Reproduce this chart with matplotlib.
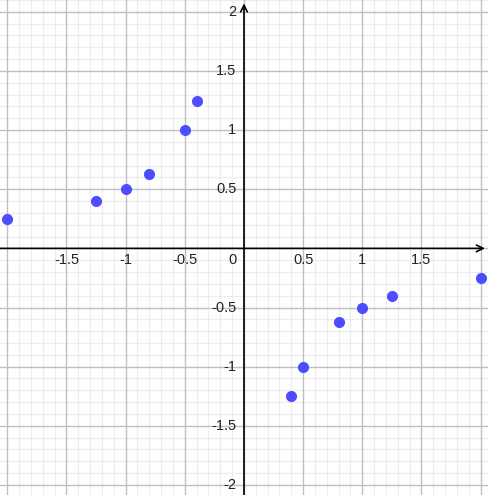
import matplotlib.pyplot as plt
import numpy as np

plt.rcParams['font.family'] = ['Liberation Sans', 'DejaVu Sans']

# points of y = -1/(2x)
xs = [-2, -1.25, -1, -0.8, -0.5, -0.4, 0.4, 0.5, 0.8, 1, 1.25, 2]
ys = [0.25, 0.4, 0.5, 0.625, 1, 1.25, -1.25, -1, -0.625, -0.5, -0.4, -0.25]
xticks = [-1.5, -1, -0.5, 0.5, 1, 1.5]
yticks = [-2, -1.5, -1, -0.5, 0.5, 1, 1.5, 2]

fig = plt.figure(figsize=(4.89, 4.95), dpi=100)
ax = fig.add_axes([0, 0, 1, 1])
ax.set_xlim(-2.062, 2.071)
ax.set_ylim(-2.085, 2.10)
ax.axis('off')

# grid
for v in np.arange(-2.5, 2.51, 0.1):
    v = round(v, 2)
    major = abs(v * 2 - round(v * 2)) < 1e-9
    c = '#c0c0c0' if major else '#ececec'
    lw = 1.0 if major else 0.8
    ax.axvline(v, color=c, lw=lw, zorder=1 if major else 0)
    ax.axhline(v, color=c, lw=lw, zorder=1 if major else 0)

# axes with arrow heads
ax.annotate('', xy=(2.06, 0), xytext=(-2.1, 0),
            arrowprops=dict(arrowstyle='->', color='black', lw=1.2, mutation_scale=12), zorder=3)
ax.annotate('', xy=(0, 2.095), xytext=(0, -2.2),
            arrowprops=dict(arrowstyle='->', color='black', lw=1.2, mutation_scale=12), zorder=3)

# tick labels
for t in xticks:
    ax.text(t, -0.1, '%g' % t, ha='center', va='center',
            fontsize=10.5, color='#222222', zorder=4)
for t in yticks:
    ax.text(-0.065, t, '%g' % t, ha='right', va='center',
            fontsize=10.5, color='#222222', zorder=4)
ax.text(-0.065, -0.1, '0', ha='right', va='center', fontsize=10.5, color='#222222', zorder=4)

ax.plot(xs, ys, 'o', color='#4d4dff', markersize=8, markeredgewidth=0, zorder=5)

fig.savefig('out.png', dpi=100)
